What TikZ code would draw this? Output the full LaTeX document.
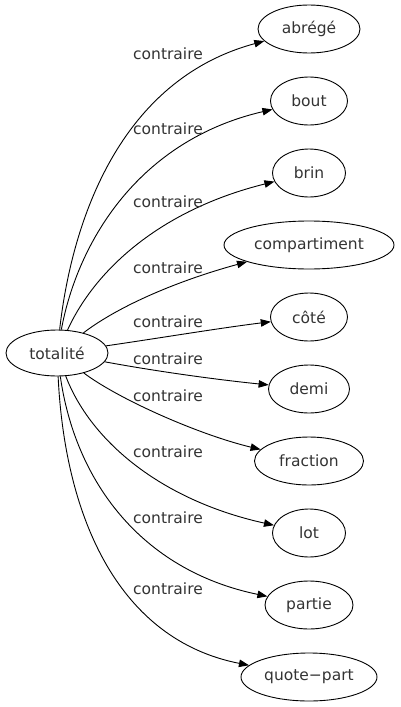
\documentclass[tikz,border=0pt]{standalone}
\usepackage{fontspec}
\setmainfont{DejaVu Sans}
\usetikzlibrary{shapes.geometric,arrows.meta}
\definecolor{txt}{HTML}{333333}
\begin{document}
\begin{tikzpicture}[x=1pt,y=-1pt,
  every node/.style={font=\fontsize{15.5}{18}\selectfont, text=txt},
  word/.style={ellipse, draw=black, line width=0.9pt, minimum height=48pt, inner sep=0pt},
  lab/.style={anchor=base, inner sep=0pt},
  rel/.style={draw=black, line width=0.9pt, -{Triangle[length=10pt,width=7.5pt]}}]
\useasboundingbox (0,0) rectangle (400,707);
\node[word, minimum width=102pt, minimum height=46pt] (t) at (57,353) {totalité};
\node[word, minimum width=102pt] (n1) at (309,29) {abrégé};
\node[word, minimum width=77pt] (n2) at (309,101) {bout};
\node[word, minimum width=73pt] (n3) at (309,173) {brin};
\node[word, minimum width=170pt] (n4) at (309,245) {compartiment};
\node[word, minimum width=77pt] (n5) at (309,317) {côté};
\node[word, minimum width=81pt] (n6) at (309,389) {demi};
\node[word, minimum width=109pt] (n7) at (309,461) {fraction};
\node[word, minimum width=73pt] (n8) at (309,533) {lot};
\node[word, minimum width=88pt] (n9) at (309,605) {partie};
\node[word, minimum width=136pt] (n10) at (309,677) {quote−part};

\draw[rel] (t) .. controls (72,220) and (120,80) .. (n1);
\draw[rel] (t) .. controls (78,240) and (140,140) .. (n2);
\draw[rel] (t) .. controls (95,270) and (160,210) .. (n3);
\draw[rel] (t) .. controls (120,305) and (180,280) .. (n4);
\draw[rel] (t) .. controls (160,338) and (220,328) .. (n5);
\draw[rel] (t) .. controls (160,372) and (220,380) .. (n6);
\draw[rel] (t) .. controls (120,400) and (200,435) .. (n7);
\draw[rel] (t) .. controls (90,440) and (160,500) .. (n8);
\draw[rel] (t) .. controls (75,480) and (140,570) .. (n9);
\draw[rel] (t) .. controls (65,520) and (120,640) .. (n10);

\node[lab] (l1) at (168,59.5) {contraire};
\node[lab] (l2) at (168,134.5) {contraire};
\node[lab] (l3) at (168,207.5) {contraire};
\node[lab] (l4) at (168,273) {contraire};
\node[lab] (l5) at (168,327.5) {contraire};
\node[lab] (l6) at (168,364.5) {contraire};
\node[lab] (l7) at (168,401.5) {contraire};
\node[lab] (l8) at (168,457.5) {contraire};
\node[lab] (l9) at (168,523.5) {contraire};
\node[lab] (l10) at (168,594.5) {contraire};
\end{tikzpicture}
\end{document}
